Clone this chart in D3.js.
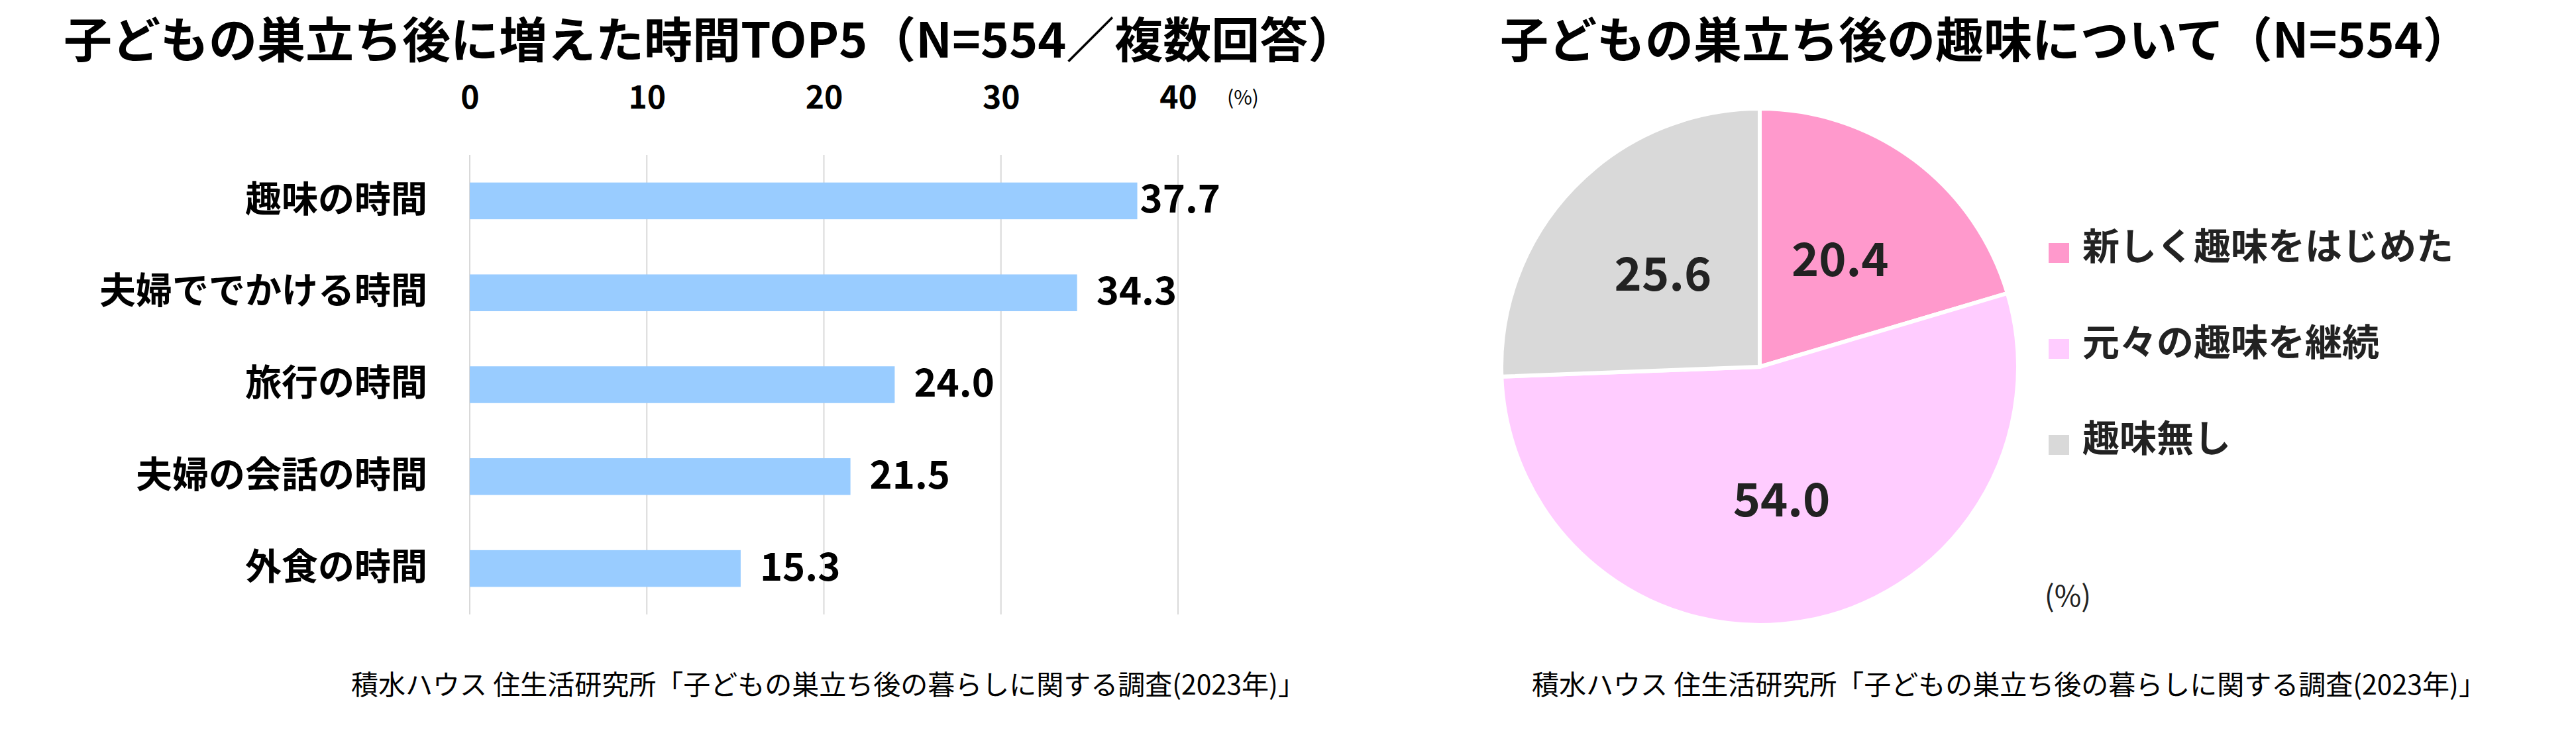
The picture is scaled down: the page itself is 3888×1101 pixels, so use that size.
<!DOCTYPE html>
<html><head><meta charset="utf-8">
<script src="https://cdn.jsdelivr.net/npm/d3@7"></script>
<style>
html,body{margin:0;padding:0;background:#fff;}
svg{display:block;}
text{font-family:"Noto Sans CJK JP","Noto Sans",sans-serif;}
</style></head>
<body>
<svg id="chart" width="3888" height="1101"></svg>
<script>
// ---- Data ----
const barTitle = "子どもの巣立ち後に増えた時間TOP5（N=554／複数回答）";
const barCategories = ["趣味の時間", "夫婦ででかける時間", "旅行の時間", "夫婦の会話の時間", "外食の時間"];
const barValues = [37.7, 34.3, 24.0, 21.5, 15.3];
const barTicks = [0, 10, 20, 30, 40];
const barUnit = "(%)";

const pieTitle = "子どもの巣立ち後の趣味について（N=554）";
const pieCategories = ["新しく趣味をはじめた", "元々の趣味を継続", "趣味無し"];
const pieValues = [20.4, 54.0, 25.6];
const pieUnit = "(%)";

const sourceText = "積水ハウス 住生活研究所「子どもの巣立ち後の暮らしに関する調査(2023年)」";

// ---- Styles ----
const barColor = "#99CCFF";
const pieColors = ["#FF99CC", "#FFCCFF", "#D9D9D9"];
const gridColor = "#D9D9D9";
const darkText = "#222222";
const DY = "-0.07em";

const svg = d3.select("#chart");

// ================= Bar chart =================
const x = d3.scaleLinear().domain([0, 40]).range([709, 1778]);
const y = d3.scaleBand().domain(barCategories).range([234, 928]).paddingInner(0.6).paddingOuter(0.3);

svg.append("text").attr("x", 96).attr("y", 60).attr("dy", DY)
  .attr("dominant-baseline", "central")
  .attr("font-size", 73).attr("font-weight", 700).attr("fill", "#000")
  .text(barTitle);

// gridlines
svg.append("g").selectAll("line").data(barTicks).join("line")
  .attr("x1", d => x(d)).attr("x2", d => x(d))
  .attr("y1", 234).attr("y2", 928)
  .attr("stroke", gridColor).attr("stroke-width", 2);

// top axis tick labels
const axis = d3.axisTop(x).tickValues(barTicks).tickSize(0).tickPadding(0);
const gAxis = svg.append("g").attr("transform", "translate(0,146)").call(axis);
gAxis.select(".domain").remove();
gAxis.selectAll("text")
  .attr("font-family", '"Noto Sans CJK JP","Noto Sans",sans-serif')
  .attr("font-size", 48).attr("font-weight", 700).attr("fill", "#000")
  .attr("dy", DY).attr("y", 0).attr("dominant-baseline", "central");

svg.append("text").attr("x", 1876).attr("y", 147).attr("dy", DY)
  .attr("dominant-baseline", "central").attr("text-anchor", "middle")
  .attr("font-size", 30).attr("fill", "#000").text(barUnit);

const barData = barCategories.map((c, i) => ({cat: c, value: barValues[i]}));

svg.append("g").selectAll("rect").data(barData).join("rect")
  .attr("x", x(0)).attr("y", d => y(d.cat))
  .attr("width", d => x(d.value) - x(0)).attr("height", y.bandwidth())
  .attr("fill", barColor);

// category labels
const yAxis = d3.axisLeft(y).tickSize(0).tickPadding(0);
const gY = svg.append("g").attr("transform", "translate(645,-4)").call(yAxis);
gY.select(".domain").remove();
gY.selectAll("text")
  .attr("font-family", '"Noto Sans CJK JP","Noto Sans",sans-serif')
  .attr("font-size", 55).attr("font-weight", 700).attr("fill", "#000")
  .attr("dy", DY).attr("x", 0).attr("dominant-baseline", "central");

// value labels
svg.append("g").selectAll("text").data(barData).join("text")
  .attr("x", d => x(d.value) + (d.value > 35 ? 4 : 29))
  .attr("y", d => y(d.cat) + y.bandwidth() / 2 - 3)
  .attr("dy", DY)
  .attr("dominant-baseline", "central")
  .attr("font-size", 58).attr("font-weight", 700).attr("fill", "#000")
  .text(d => d.value.toFixed(1));

svg.append("text").attr("x", 1250).attr("y", 1034).attr("dy", DY)
  .attr("dominant-baseline", "central").attr("text-anchor", "middle")
  .attr("font-size", 41).attr("fill", "#000")
  .text(sourceText);

// ================= Pie chart =================
svg.append("text").attr("x", 2264).attr("y", 60).attr("dy", DY)
  .attr("dominant-baseline", "central")
  .attr("font-size", 73).attr("font-weight", 700).attr("fill", "#000")
  .text(pieTitle);

const cx = 2656, cy = 554, r = 390;
const pieData = pieCategories.map((c, i) => ({cat: c, value: pieValues[i], color: pieColors[i]}));
const pie = d3.pie().sort(null).value(d => d.value);
const arc = d3.arc().innerRadius(0).outerRadius(r);
const arcs = pie(pieData);

const gPie = svg.append("g").attr("transform", `translate(${cx},${cy})`);
gPie.selectAll("path").data(arcs).join("path")
  .attr("d", arc).attr("fill", d => d.data.color)
  .attr("stroke", "#fff").attr("stroke-width", 6).attr("stroke-linejoin", "round");

const labelArc = d3.arc().innerRadius(r * 0.52).outerRadius(r * 0.52);
gPie.selectAll("text").data(arcs).join("text")
  .attr("transform", d => `translate(${labelArc.centroid(d)})`)
  .attr("dy", DY)
  .attr("text-anchor", "middle").attr("dominant-baseline", "central")
  .attr("font-size", 70).attr("font-weight", 700).attr("fill", darkText)
  .text(d => d.data.value.toFixed(1));

// legend
const leg = svg.append("g").selectAll("g").data(pieData).join("g")
  .attr("transform", (d, i) => `translate(3092,${371 + i * 145})`);
leg.append("rect").attr("x", 0).attr("y", -4).attr("width", 31).attr("height", 30)
  .attr("fill", d => d.color);
leg.append("text").attr("x", 51).attr("y", 0).attr("dy", DY)
  .attr("dominant-baseline", "central")
  .attr("font-size", 56).attr("font-weight", 700).attr("fill", darkText)
  .text(d => d.cat);

svg.append("text").attr("x", 3121).attr("y", 900).attr("dy", DY)
  .attr("dominant-baseline", "central").attr("text-anchor", "middle")
  .attr("font-size", 44).attr("fill", darkText).text(pieUnit);

svg.append("text").attr("x", 3032).attr("y", 1034).attr("dy", DY)
  .attr("dominant-baseline", "central").attr("text-anchor", "middle")
  .attr("font-size", 41).attr("fill", "#000")
  .text(sourceText);
</script>
</body></html>
